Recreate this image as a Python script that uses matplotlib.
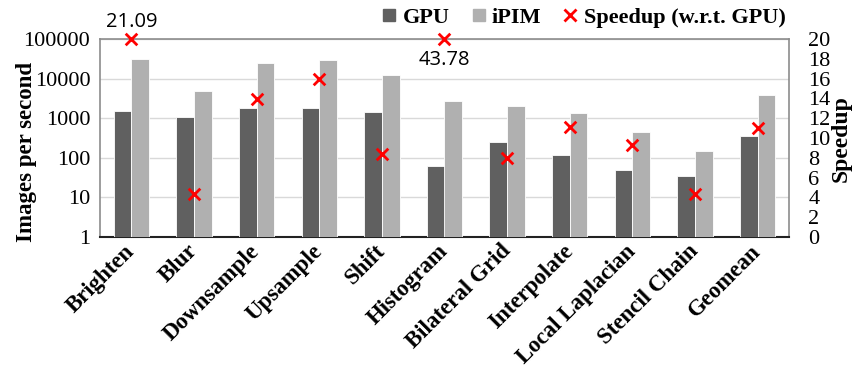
import matplotlib
matplotlib.use("Agg")
import matplotlib.pyplot as plt
import numpy as np
from matplotlib.lines import Line2D

categories = ["Brighten", "Blur", "Downsample", "Upsample", "Shift", "Histogram",
              "Bilateral Grid", "Interpolate", "Local Laplacian", "Stencil Chain", "Geomean"]
gpu = [1480, 1090, 1780, 1810, 1450, 61, 255, 118, 49, 34, 350]
ipim = [30900, 4780, 24600, 29000, 12300, 2710, 2080, 1330, 450, 146, 3800]
speedup = [21.09, 4.3, 13.9, 16.0, 8.4, 43.78, 8.0, 11.1, 9.3, 4.3, 11.0]
left_ticks = [1, 10, 100, 1000, 10000, 100000]
right_ticks = list(range(0, 21, 2))
speedup_max = 20

serif = ["Liberation Serif", "DejaVu Serif"]

fig = plt.figure(figsize=(8.54, 3.72), dpi=100)
ax = fig.add_axes([100/854, 1-237/372, (789-100)/854, (237-39)/372])
x = np.arange(len(categories))
w = 0.283
ax.bar(x - w/2, gpu, w, color="#606060", edgecolor="white", linewidth=0.6, zorder=3)
ax.bar(x + w/2, ipim, w, color="#b0b0b0", edgecolor="white", linewidth=0.6, zorder=3)
ax.set_yscale("log")
ax.set_ylim(1, 100000)
ax.set_xlim(-0.5, len(categories) - 0.5)
ax.set_yticks(left_ticks)
ax.set_yticklabels([str(t) for t in left_ticks], family=serif, fontsize=16)
ax.minorticks_off()
ax.yaxis.grid(True, color="#d9d9d9", linewidth=1, zorder=0)
ax.tick_params(axis="y", length=0, pad=7)
ax.tick_params(axis="x", length=0, pad=8)
ax.set_xticks(x)
ax.set_xticklabels(categories, rotation=45, ha="right", va="center", rotation_mode="anchor",
                   family=serif, fontsize=16.5, fontweight="bold")
for s in ["top", "left", "right"]:
    ax.spines[s].set_color("#8c8c8c")
    ax.spines[s].set_linewidth(1.2)
ax.spines["bottom"].set_color("#222222")
ax.spines["bottom"].set_linewidth(1.5)
ax.set_ylabel("Images per second", family=serif, fontsize=16.5, fontweight="bold")
ax.yaxis.set_label_coords(-0.092, 0.43)

ax2 = ax.twinx()
ax2.set_ylim(0, speedup_max)
ax2.set_yticks(right_ticks)
ax2.set_yticklabels([str(t) for t in right_ticks], family=serif, fontsize=16)
ax2.tick_params(axis="y", length=0, pad=14)
for s in ax2.spines.values():
    s.set_visible(False)
sp_plot = np.minimum(speedup, speedup_max)
ax2.scatter(x, sp_plot, marker="x", color="#ff0000", s=70, linewidths=2, zorder=5, clip_on=False)
for xi, v in zip(x, speedup):
    if v > speedup_max:
        if v < 30:
            ax2.annotate(f"{v:.2f}", (xi, speedup_max), xytext=(0, 5), textcoords="offset points",
                         ha="center", va="bottom", fontsize=14.5, family=["Open Sans", "DejaVu Sans"])
        else:
            ax2.annotate(f"{v:.2f}", (xi, speedup_max), xytext=(0, -8), textcoords="offset points",
                         ha="center", va="top", fontsize=14.5, family=["Open Sans", "DejaVu Sans"])
ax2.set_ylabel("Speedup", family=serif, fontsize=17, fontweight="bold")
ax2.yaxis.set_label_coords(1.061, 0.497)

handles = [
    Line2D([], [], marker="s", linestyle="none", color="#606060", markersize=9),
    Line2D([], [], marker="s", linestyle="none", color="#b0b0b0", markersize=9),
    Line2D([], [], marker="x", linestyle="none", color="#ff0000", markersize=9, markeredgewidth=2),
]
fig.legend(handles, ["GPU", "iPIM", "Speedup (w.r.t. GPU)"], loc="center",
           bbox_to_anchor=(583/854, 1-18/372), ncol=3, frameon=False,
           prop={"family": serif, "size": 16, "weight": "bold"},
           handlelength=0.8, handletextpad=0.2, columnspacing=0.9)

fig.savefig("out.png", dpi=100)
